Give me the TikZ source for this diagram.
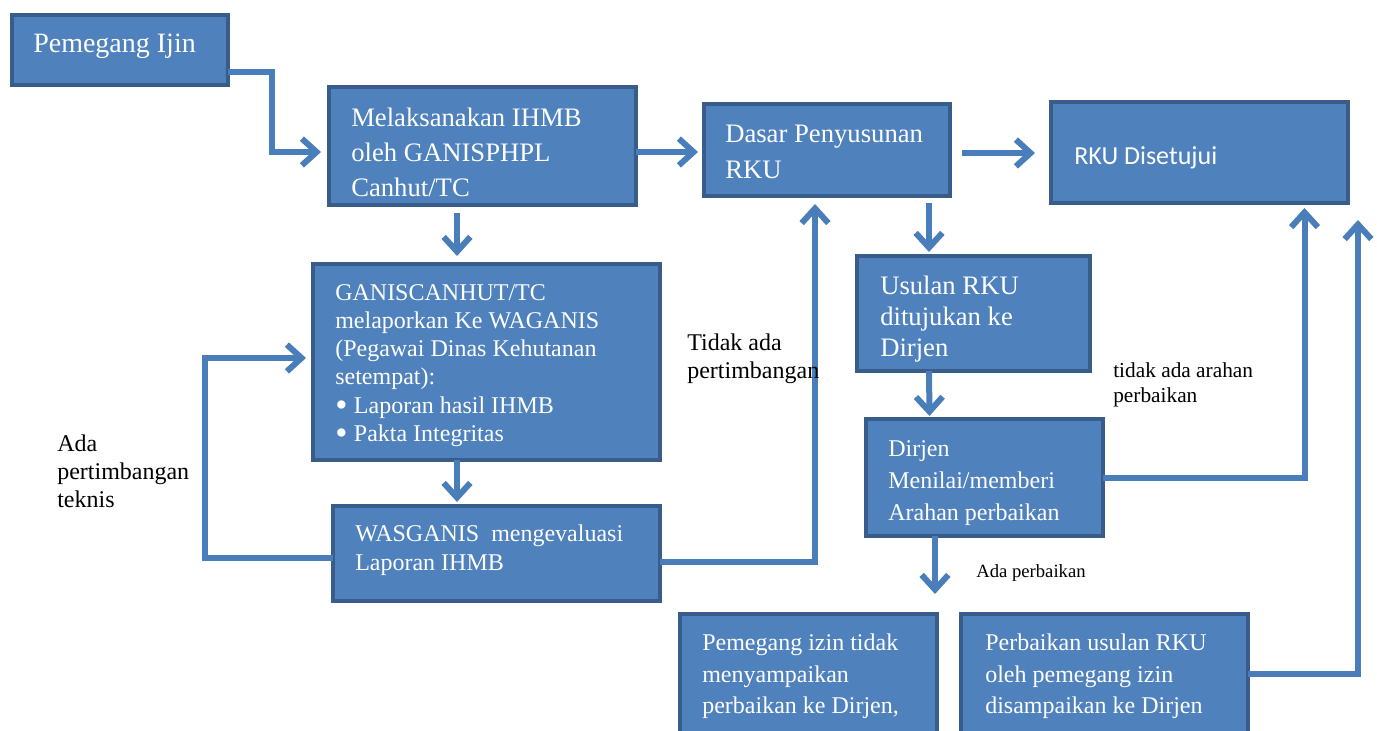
\documentclass[tikz,border=0pt]{standalone}
\usepackage{fontspec}
\setmainfont{Liberation Serif}
\newfontfamily\calib{Carlito}
\usetikzlibrary{arrows.meta,calc}
\definecolor{boxfill}{HTML}{4F81BD}
\definecolor{boxline}{HTML}{385D8A}
\definecolor{arrowc}{HTML}{4A7EBB}
\newcommand{\fs}[2]{\fontsize{#1}{#2}\selectfont}
\newcommand{\bul}{\makebox[14pt][l]{\raisebox{-2.6pt}[0pt][0pt]{\scalebox{1.45}{\textbullet}}}}
\begin{document}
\begin{tikzpicture}[x=0.75pt,y=-0.75pt,
  box/.style={draw=boxline, line width=3pt, fill=boxfill, anchor=north west, inner sep=0pt, outer sep=0pt},
  txt/.style={anchor=north west, inner sep=0pt, text=white, align=left},
  lbl/.style={anchor=north west, inner sep=0pt, text=black, align=left},
  conn/.style={draw=arrowc, line width=4.5pt, -{Straight Barb[length=11pt,width=20pt]}}]
\useasboundingbox (0,0) rectangle (1377,731);
\clip (0,0) rectangle (1377,731);

% boxes
\node[box, minimum width=162pt, minimum height=52.5pt] (pi) at (12,15) {};
\node[box, minimum width=230.25pt, minimum height=88.5pt] (mel) at (329,87) {};
\node[box, minimum width=184.5pt, minimum height=69pt] (dasar) at (704,104) {};
\node[box, minimum width=222.75pt, minimum height=75.75pt] (rku) at (1051,102) {};
\node[box, minimum width=260.25pt, minimum height=147pt] (ganis) at (313,264) {};
\node[box, minimum width=245.25pt, minimum height=71.25pt] (wasg) at (333,506) {};
\node[box, minimum width=174.75pt, minimum height=86.25pt] (usul) at (857,256) {};
\node[box, minimum width=177.75pt, minimum height=87.75pt] (dirjen) at (866,419) {};
\node[box, minimum width=192.75pt, minimum height=105pt] (tidak) at (680,614) {};
\node[box, minimum width=215.25pt, minimum height=105pt] (perb) at (961,614) {};

% box texts
\node[txt, font=\fs{21}{25}] (piT) at ($(pi.north west)+(21,19)$) {Pemegang Ijin};
\node[txt, font=\fs{20}{26}] (melT) at ($(mel.north west)+(22,21)$) {Melaksanakan IHMB\\oleh GANISPHPL\\Canhut/TC};
\node[txt, font=\fs{20}{26.5}] (dasarT) at ($(dasar.north west)+(21,21)$) {Dasar Penyusunan\\RKU};
\node[txt, font=\calib\fs{19.5}{24}] (rkuT) at ($(rku.north west)+(23,44)$) {RKU Disetujui};
\node[txt, font=\fs{18}{21.2}] (ganisT) at ($(ganis.north west)+(22,20)$) {GANISCANHUT/TC\\melaporkan Ke WAGANIS\\(Pegawai Dinas Kehutanan\\setempat):\\\bul Laporan hasil IHMB\\\bul Pakta Integritas};
\node[txt, font=\fs{18}{21.75}] (wasgT) at ($(wasg.north west)+(22,19)$) {WASGANIS\ \ mengevaluasi\\Laporan IHMB};
\node[txt, font=\fs{20}{23}] (usulT) at ($(usul.north west)+(23,20)$) {Usulan RKU\\ditujukan ke\\Dirjen};
\node[txt, font=\fs{18}{24}] (dirjenT) at ($(dirjen.north west)+(22,21)$) {Dirjen\\Menilai/memberi\\Arahan perbaikan};
\node[txt, font=\fs{18}{23.6}] (tidakT) at ($(tidak.north west)+(22,20)$) {Pemegang izin tidak\\menyampaikan\\perbaikan ke Dirjen,};
\node[txt, font=\fs{18}{23.6}] (perbT) at ($(perb.north west)+(24,20)$) {Perbaikan usulan RKU\\oleh pemegang izin\\disampaikan ke Dirjen};

% free ends
\coordinate (ap) at ($(dirjen.south)+(-49.5,58)$);
\coordinate (up) at ($(rku.south east)+(10,17)$);

% connectors
\draw[conn] ($(pi.south east)+(0,-13)$) -| ($(mel.west)+(-57,6)$) -- ($(mel.west)+(-8,6)$);
\draw[conn] ($(mel.east)+(0,6)$) -- ($(dasar.west)+(-6,2)$);
\draw[conn] ($(dasar.east)+(12,3)$) -- ($(rku.west)+(-16,0.5)$);
\draw[conn] ($(mel.south)+(-25.5,8)$) -- ($(ganis.north)+(-29.5,-8)$);
\draw[conn] ($(ganis.south)+(-29.5,0)$) -- ($(wasg.north)+(-39.5,-4)$);
\draw[conn] ($(wasg.west)+(0,4)$) -| ($(ganis.west)+(-108,-4)$) -- ($(ganis.west)+(-7,-4)$);
\draw[conn] ($(wasg.east)+(0,8)$) -| ($(dasar.south)+(-12,8)$);
\draw[conn] ($(dasar.south)+(102,7)$) -- ($(usul.north)+(-44.5,-4)$);
\draw[conn] ($(usul.south)+(-44.5,0)$) -- ($(dirjen.north)+(-55,-3)$);
\draw[conn] (dirjen.east) -| ($(rku.south)+(105,5)$);
\draw[conn] ($(dirjen.south)+(-49.5,0)$) -- (ap);
\draw[conn] ($(perb.east)+(0,-10)$) -| (up);

% labels
\node[lbl, font=\fs{18}{21}] (l1) at (57,435) {Ada\\pertimbangan\\teknis};
\node[lbl, font=\fs{18}{21}] (l2) at (687,334) {Tidak ada\\pertimbangan};
\node[lbl, font=\fs{16}{18.75}] (l3) at (1113,362) {tidak ada arahan\\perbaikan};
\node[lbl, font=\fs{14}{17}] (l4) at (976,564) {Ada perbaikan};
\end{tikzpicture}
\end{document}
